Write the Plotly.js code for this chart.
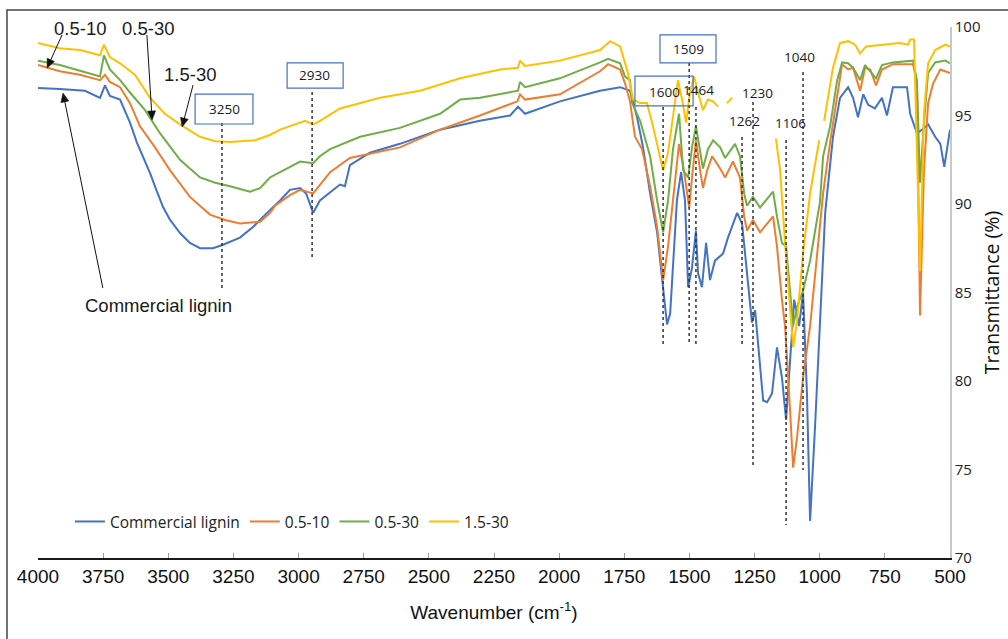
<!DOCTYPE html>
<html>
<head>
<meta charset="utf-8">
<script src="https://cdn.plot.ly/plotly-3.0.1.min.js"></script>
<style>html,body{margin:0;padding:0;background:#fff;}#chart{width:1008px;height:639px;}</style>
</head>
<body>
<div id="chart"></div>
<script>
// ---- Data (wavenumber cm-1, transmittance %) ----
const seriesNames = ['Commercial lignin', '0.5-10', '0.5-30', '1.5-30'];

const ligninWn = [4000,3916,3820,3762,3743,3724,3685,3647,3620,3597,3570,3546,3520,3493,3455,3417,3378,3328,3290,3225,3175,3121,3071,3033,2994,2971,2944,2918,2841,2822,2803,2726,2611,2457,2304,2188,2158,2131,1997,1843,1766,1728,1701,1678,1651,1624,1605,1586,1574,1563,1548,1532,1517,1505,1490,1475,1467,1452,1436,1421,1402,1371,1352,1317,1298,1279,1260,1248,1237,1217,1202,1183,1164,1145,1129,1114,1098,1079,1064,1049,1037,1018,999,979,949,922,891,872,853,833,814,788,761,742,719,665,653,627,607,584,557,537,522,500];
const ligninT  = [96.55,96.5,96.4,96.0,96.7,96.1,95.9,94.6,93.45,92.66,91.75,90.8,89.83,89.1,88.36,87.8,87.5,87.5,87.7,88.1,88.7,89.5,90.2,90.8,90.9,90.6,89.5,90.2,91.1,91.0,92.2,92.9,93.4,94.2,94.7,95.0,95.5,95.1,95.8,96.4,96.6,96.4,94.9,93.2,90.6,88.4,85.9,83.2,83.8,86.8,90.2,91.8,90.2,85.3,86.4,88.5,86.1,85.3,87.8,85.7,86.8,87.2,88.1,89.5,88.9,86.1,83.3,84.0,82.1,78.9,78.8,79.3,81.9,80.2,77.8,81.2,84.6,83.1,85.0,79.3,72.1,77.4,83.1,89.5,93.8,96.0,96.6,96.0,94.9,96.2,95.6,95.4,96.0,95.0,96.6,96.6,95.1,94.0,94.2,94.5,93.8,93.4,92.1,94.2];

const s0510Wn = [4000,3916,3839,3762,3743,3724,3685,3647,3609,3551,3493,3417,3340,3282,3225,3148,3109,3090,3033,2994,2944,2918,2879,2803,2611,2457,2304,2160,2150,2131,1997,1843,1812,1766,1747,1728,1709,1682,1651,1624,1601,1582,1563,1540,1521,1501,1490,1475,1459,1448,1432,1413,1382,1363,1333,1306,1290,1279,1256,1229,1179,1164,1145,1133,1114,1102,1087,1064,1037,999,987,960,933,914,891,872,845,826,806,784,761,719,642,627,615,600,584,565,537,500];
const s0510T  = [97.85,97.5,97.3,97.0,97.3,96.9,96.6,95.7,94.4,93.2,91.9,90.4,89.4,89.1,88.9,89.0,89.5,89.9,90.5,90.8,90.6,91.1,91.8,92.6,93.2,94.2,95.0,95.8,96.2,95.9,96.2,97.5,97.9,97.6,96.8,95.8,93.8,93.1,91.0,88.7,85.7,87.6,90.1,93.4,91.9,89.8,91.5,93.6,91.9,90.9,91.9,92.7,92.0,91.5,92.4,91.5,89.3,88.5,89.1,88.4,89.3,87.6,84.6,83.1,78.4,75.1,76.8,80.2,83.1,88.7,90.6,93.5,96.0,97.9,97.6,97.7,96.4,97.7,97.6,96.7,97.6,97.9,97.9,96.8,83.7,91.9,95.7,96.8,97.6,97.4];

const s0530Wn = [4000,3916,3762,3747,3724,3685,3647,3589,3532,3455,3378,3320,3263,3186,3148,3110,3071,2994,2944,2918,2879,2764,2611,2457,2380,2304,2158,2150,2131,1997,1843,1812,1766,1747,1728,1720,1689,1651,1624,1601,1582,1563,1540,1524,1505,1490,1475,1459,1448,1429,1409,1382,1363,1325,1306,1290,1279,1256,1229,1179,1164,1145,1129,1114,1102,1087,1064,1037,1018,999,987,960,933,914,891,872,845,826,784,761,719,642,627,615,600,584,557,518,500];
const s0530T  = [98.1,97.85,97.2,98.4,97.6,97.0,96.3,95.3,94.0,92.5,91.5,91.2,91.0,90.7,90.9,91.5,91.8,92.4,92.3,92.7,93.1,93.8,94.3,95.1,95.9,96.0,96.4,96.9,96.6,97.1,98.0,98.2,97.95,97.2,97.0,95.7,94.7,92.7,90.2,88.4,90.2,93.1,95.1,91.9,91.5,93.2,94.4,93.1,92.0,93.1,93.6,93.2,92.6,93.4,92.7,90.6,89.9,90.4,89.8,90.7,89.3,87.8,87.6,85.1,83.1,84.2,85.1,86.8,88.5,90.1,92.7,94.4,97.0,98.0,97.95,97.7,97.0,97.85,97.1,97.85,98.0,98.1,97.0,91.2,94.6,97.4,98.0,98.1,97.95];

const s1530Wn = [4000,3916,3839,3762,3747,3724,3685,3628,3570,3513,3455,3378,3320,3263,3167,3110,3071,2975,2944,2918,2841,2687,2534,2380,2227,2158,2150,2131,1997,1843,1804,1766,1736,1716,1689,1663,1640,1620,1601,1582,1563,1544,1528,1513,1498,1482,1467,1448,1429,1409,1390,1373,1356,1336,1250,1168,1152,1133,1114,1102,1087,1064,1037,1002,992,983,968,949,922,891,864,845,822,768,692,661,653,638,630,615,600,584,557,518,500];
const s1530T  = [99.1,98.8,98.7,98.4,99.0,98.3,97.95,97.3,96.0,95.1,94.5,93.8,93.55,93.5,93.6,93.9,94.2,94.7,94.5,94.7,95.4,96.0,96.4,97.1,97.6,97.7,98.1,97.8,98.1,98.7,99.2,98.9,97.4,95.9,95.7,95.7,94.4,93.1,91.9,92.9,95.1,97.0,95.9,94.6,96.3,97.2,96.3,95.3,95.9,95.8,95.5,null,95.7,96.0,null,93.7,91.9,87.8,84.4,81.9,83.4,87.2,90.6,93.6,null,94.7,96.0,97.7,99.1,99.2,99.0,98.5,98.9,99.0,99.1,99.0,99.3,99.3,94.2,86.2,95.1,97.95,98.7,99.0,98.9];

const peakLabels = ['3250', '2930', '1600', '1509', '1464', '1262', '1230', '1106', '1040'];
const xTickValues = [4000,3750,3500,3250,3000,2750,2500,2250,2000,1750,1500,1250,1000,750,500];

// ---- Styling ----
const colors = ['#4472C4', '#ED7D31', '#70AD47', '#FFC000'];
const xs = [ligninWn, s0510Wn, s0530Wn, s1530Wn];
const ys = [ligninT, s0510T, s0530T, s1530T];

const traces = seriesNames.map((n, i) => ({
  type: 'scatter', mode: 'lines', name: n,
  x: xs[i], y: ys[i],
  connectgaps: false,
  line: {color: colors[i], width: 2, shape: 'linear'}
}));

const W = 1008, H = 639, M = {l: 38, r: 58, t: 27, b: 81};
const XR = [4000, 500], YR = [70, 100];
const pw = W - M.l - M.r, ph = H - M.t - M.b;
const toPx = wn => M.l + (XR[0] - wn) / (XR[0] - XR[1]) * pw;
const toPy = t => M.t + (YR[1] - t) / (YR[1] - YR[0]) * ph;
const fromPx = px => XR[0] - (px - M.l) * (XR[0] - XR[1]) / pw;
const fromPy = py => YR[1] - (py - M.t) * (YR[1] - YR[0]) / ph;

const lblFont = {family: 'Open Sans, Liberation Sans, sans-serif', size: 13.5, color: '#1a1a1a'};
const bigFont = {family: 'Liberation Sans, Arial, sans-serif', size: 18.5, color: '#1a1a1a'};

// label placements: [x, y]
const peakPos = [
  [3286, 95.37], [2937, 97.29], [1597, 96.33], [1505, 98.76],
  [1467, 96.44], [1290, 94.69], [1237, 96.27], [1114, 94.58], [1079, 98.31]
];
// dotted guide lines: [x, yTop, yBottom]
const guides = [
  [3294, 94.58, 85.14], [2948, 96.33, 86.84], [1601, 95.48, 82.03], [1501, 97.97, 82.03],
  [1475, 95.48, 82.03], [1298, 93.79, 82.03], [1256, 95.76, 75.25], [1129, 93.62, 71.86], [1064, 97.46, 74.97]
];
// boxes: [x0, x1, y0, y1]
const boxes = [
  [3397, 3175, 94.52, 96.21], [3044, 2829, 96.55, 97.97], [1709, 1486, 95.54, 97.23], [1613, 1398, 97.97, 99.55]
];

const shapes = [];
guides.forEach(g => shapes.push({type: 'line', xref: 'x', yref: 'y', x0: g[0], x1: g[0], y0: g[1], y1: g[2],
  line: {color: '#333', width: 1.5, dash: 'dot'}}));
boxes.forEach(b => shapes.push({type: 'rect', xref: 'x', yref: 'y', x0: b[0], x1: b[1], y0: b[2], y1: b[3],
  line: {color: '#4472C4', width: 1.2}, fillcolor: 'rgba(0,0,0,0)'}));
// outer frame of the figure
shapes.push({type: 'rect', xref: 'paper', yref: 'paper', x0: -0.034, x1: 1.08, y0: -0.2, y1: 1.032,
  line: {color: '#444', width: 1.5}, fillcolor: 'rgba(0,0,0,0)'});

const annotations = peakLabels.map((t, i) => ({
  xref: 'x', yref: 'y', x: peakPos[i][0], y: peakPos[i][1], text: t, showarrow: false, font: lblFont
}));

// series call-outs with arrows (text centre, arrow head, arrow tail)
const callouts = [
  {text: '0.5-10', tx: 3839, ty: 99.89, hx: 3965, hy: 97.68, ax: 3908, ay: 99.55},
  {text: '0.5-30', tx: 3578, ty: 99.89, hx: 3562, hy: 94.75, ax: 3582, ay: 99.55},
  {text: '1.5-30', tx: 3417, ty: 97.34, hx: 3447, hy: 94.35, ax: 3405, ay: 96.72},
  {text: 'Commercial lignin', tx: 3539, ty: 84.29, hx: 3904, hy: 96.27, ax: 3751, ay: 85.25}
];
callouts.forEach(c => {
  annotations.push({xref: 'x', yref: 'y', x: c.tx, y: c.ty, text: c.text, showarrow: false, font: bigFont});
  // arrow shaft
  const hxp = toPx(c.hx), hyp = toPy(c.hy), txp = toPx(c.ax), typ = toPy(c.ay);
  const dx = hxp - txp, dy = hyp - typ, len = Math.hypot(dx, dy);
  const ux = dx / len, uy = dy / len, nx = -uy, ny = ux;
  const L = 9, Wd = 4;
  const bx = hxp - L * ux, by = hyp - L * uy;
  shapes.push({type: 'line', xref: 'x', yref: 'y', x0: c.ax, y0: c.ay, x1: fromPx(bx + 2 * ux), y1: fromPy(by + 2 * uy),
    line: {color: '#111', width: 1}});
  const p1 = [fromPx(hxp), fromPy(hyp)], p2 = [fromPx(bx + Wd * nx), fromPy(by + Wd * ny)], p3 = [fromPx(bx - Wd * nx), fromPy(by - Wd * ny)];
  shapes.push({type: 'path', xref: 'x', yref: 'y',
    path: `M ${p1[0]},${p1[1]} L ${p2[0]},${p2[1]} L ${p3[0]},${p3[1]} Z`,
    fillcolor: '#111', line: {color: '#111', width: 0.5}});
});

const layout = {
  width: W, height: H,
  margin: M,
  paper_bgcolor: '#fff', plot_bgcolor: '#fff',
  showlegend: true,
  legend: {orientation: 'h', x: 0.035, y: 0.068, xanchor: 'left', yanchor: 'middle',
    font: {family: 'Open Sans, Liberation Sans, sans-serif', size: 15.5, color: '#222'},
    bgcolor: 'rgba(0,0,0,0)'},
  xaxis: {
    range: XR, tickmode: 'array', tickvals: xTickValues, ticktext: xTickValues.map(String),
    ticks: 'inside', ticklen: 5, tickcolor: '#999', tickwidth: 1,
    showline: true, linecolor: '#1a1a1a', linewidth: 2, showgrid: false, zeroline: false,
    tickfont: {family: 'Liberation Sans Narrow, Arial Narrow, Liberation Sans, sans-serif', size: 19, color: '#111'},
    title: {text: 'Wavenumber (cm<sup>-1</sup>)', standoff: 20,
      font: {family: 'Liberation Sans Narrow, Arial Narrow, Liberation Sans, sans-serif', size: 19, color: '#111'}}
  },
  yaxis: {
    side: 'right', range: YR, tickmode: 'linear', tick0: 70, dtick: 5,
    showline: true, linecolor: '#c8c8c8', linewidth: 1.5, ticks: '', showgrid: false, zeroline: false,
    tickfont: {family: 'Open Sans, Liberation Sans, sans-serif', size: 15, color: '#222'},
    title: {text: 'Transmittance (%)', standoff: 6,
      font: {family: 'Open Sans, Liberation Sans, sans-serif', size: 19.5, color: '#111'}}
  },
  shapes: shapes,
  annotations: annotations
};

Plotly.newPlot('chart', traces, layout, {displayModeBar: false, responsive: false});
</script>
</body>
</html>
